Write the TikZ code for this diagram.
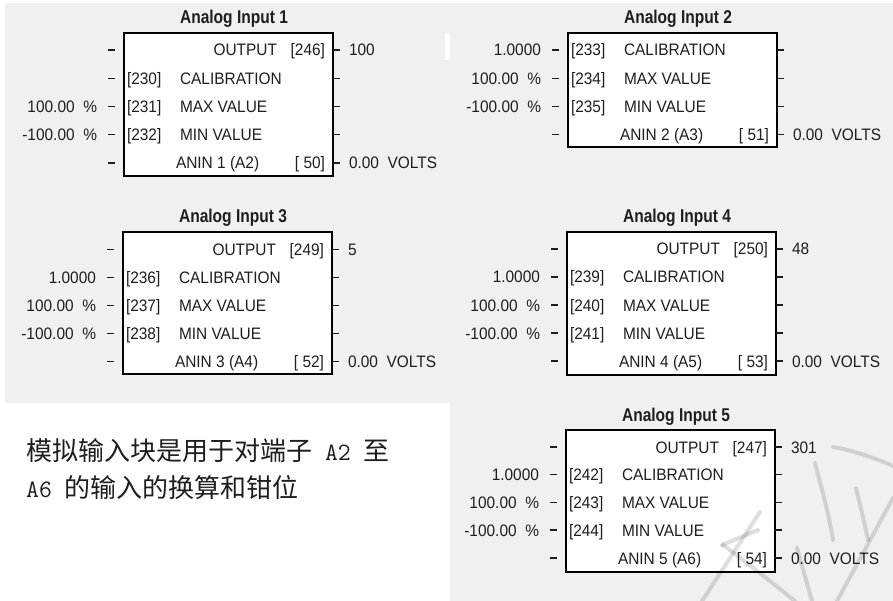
\documentclass[tikz,border=0pt]{standalone}
\usepackage{fontspec}
\setmainfont{Liberation Sans}
\newfontfamily\bodyfont[FakeStretch=0.93]{Liberation Sans}
\newfontfamily\titlefont[FakeStretch=0.84]{Liberation Sans Bold}
\newfontfamily\cjkfont{Noto Sans CJK SC}
\definecolor{bggray}{RGB}{240,240,240}
\definecolor{inkc}{RGB}{30,30,30}
\tikzset{
  txt/.style={inner sep=0pt, outer sep=0pt, text=inkc, font=\bodyfont\fontsize{16.6}{17}\selectfont},
  ttl/.style={inner sep=0pt, outer sep=0pt, text=inkc, font=\titlefont\fontsize{18.5}{19}\selectfont},
  boxst/.style={draw=black, line width=1.4pt, fill=white, anchor=north west, minimum width=209pt, inner sep=0pt, outer sep=0pt},
  tickline/.style={line width=1.3pt, draw=inkc},
  wm/.style={draw=black, opacity=0.13, line width=4pt, line cap=round},
  zh/.style={anchor=base west, inner sep=0pt, text=inkc, font=\fontsize{26}{26}\selectfont\cjkfont},
}
% left tick + right tick
\newcommand\ticks[2]{%
  \coordinate (#1la) at (-16,#2); \coordinate (#1lb) at (-9,#2);
  \draw[tickline] (#1la) -- (#1lb);
  \coordinate (#1ra) at (209,#2); \coordinate (#1rb) at (216,#2);
  \draw[tickline] (#1ra) -- (#1rb);
}
% input row: prefix, y, left value, number, label
\newcommand\inrow[5]{%
  \ticks{#1}{#2}
  \node[txt,anchor=base east] (#1v) at (-27,#2+6) {#3};
  \node[txt,anchor=base west] (#1n) at (3,#2+6) {[#4]};
  \node[txt,anchor=base west] (#1l) at (56,#2+6) {#5};
}
% output row: prefix, y, number, value
\newcommand\outrow[4]{%
  \ticks{#1}{#2}
  \node[txt,anchor=base east] (#1l) at (153,#2+6) {OUTPUT};
  \node[txt,anchor=base east] (#1n) at (201,#2+6) {[#3]};
  \node[txt,anchor=base west] (#1v) at (225,#2+6) {#4};
}
% anin row: prefix, y, label, number, value
\newcommand\aninrow[5]{%
  \ticks{#1}{#2}
  \node[txt,anchor=base west] (#1l) at (52,#2+6) {#3};
  \node[txt,anchor=base east] (#1n) at (201,#2+6) {[#4]};
  \node[txt,anchor=base west] (#1v) at (225,#2+6) {#5};
}
\begin{document}
\begin{tikzpicture}[x=1pt,y=-1pt]
\useasboundingbox (0,0) rectangle (893,601);
% backgrounds
\fill[white] (0,0) rectangle (893,601);
\fill[bggray] (5,3) rectangle (893,601);
\fill[white] (0,403) rectangle (450,601);
\fill[white] (445,33) rectangle (450,60);

% Block 1
\begin{scope}[shift={(124,33)}]
  \node[boxst, minimum height=143pt] (A) at (0,0) {};
  \node[ttl, anchor=base] (At) at (110,-9) {Analog Input 1};
  \outrow{Ar1}{17}{246}{100}
  \inrow{Ar2}{45.25}{}{230}{CALIBRATION}
  \inrow{Ar3}{73.5}{100.00 \ \%}{231}{MAX VALUE}
  \inrow{Ar4}{101.75}{-100.00 \ \%}{232}{MIN VALUE}
  \aninrow{Ar5}{130}{ANIN 1 (A2)}{ 50}{0.00 \ VOLTS}
\end{scope}

% Block 2
\begin{scope}[shift={(568,33)}]
  \node[boxst, minimum height=114pt] (B) at (0,0) {};
  \node[ttl, anchor=base] (Bt) at (110,-9) {Analog Input 2};
  \inrow{Br1}{17}{1.0000}{233}{CALIBRATION}
  \inrow{Br2}{45.25}{100.00 \ \%}{234}{MAX VALUE}
  \inrow{Br3}{73.5}{-100.00 \ \%}{235}{MIN VALUE}
  \aninrow{Br4}{101.75}{ANIN 2 (A3)}{ 51}{0.00 \ VOLTS}
\end{scope}

% Block 3
\begin{scope}[shift={(123,232)}]
  \node[boxst, minimum height=142pt] (C) at (0,0) {};
  \node[ttl, anchor=base] (Ct) at (110,-9) {Analog Input 3};
  \outrow{Cr1}{17.5}{249}{5}
  \inrow{Cr2}{45.5}{1.0000}{236}{CALIBRATION}
  \inrow{Cr3}{73.5}{100.00 \ \%}{237}{MAX VALUE}
  \inrow{Cr4}{101.5}{-100.00 \ \%}{238}{MIN VALUE}
  \aninrow{Cr5}{129.5}{ANIN 3 (A4)}{ 52}{0.00 \ VOLTS}
\end{scope}

% Block 4
\begin{scope}[shift={(567,232)}]
  \node[boxst, minimum height=143pt] (D) at (0,0) {};
  \node[ttl, anchor=base] (Dt) at (110,-9) {Analog Input 4};
  \outrow{Dr1}{17}{250}{48}
  \inrow{Dr2}{45}{1.0000}{239}{CALIBRATION}
  \inrow{Dr3}{73}{100.00 \ \%}{240}{MAX VALUE}
  \inrow{Dr4}{101}{-100.00 \ \%}{241}{MIN VALUE}
  \aninrow{Dr5}{129}{ANIN 4 (A5)}{ 53}{0.00 \ VOLTS}
\end{scope}

% Block 5
\begin{scope}[shift={(566,430)}]
  \node[boxst, minimum height=142pt] (E) at (0,0) {};
  \node[ttl, anchor=base] (Et) at (110,-9) {Analog Input 5};
  \outrow{Er1}{17}{247}{301}
  \inrow{Er2}{44.5}{1.0000}{242}{CALIBRATION}
  \inrow{Er3}{72.5}{100.00 \ \%}{243}{MAX VALUE}
  \inrow{Er4}{100}{-100.00 \ \%}{244}{MIN VALUE}
  \aninrow{Er5}{128}{ANIN 5 (A6)}{ 54}{0.00 \ VOLTS}
\end{scope}

% Chinese description
\node[zh] (zh1) at (26,460)
  {模拟输入块是用于对端子{\ttfamily\fontsize{25}{26}\selectfont\ A2\ }至};
\node[zh] (zh2) at (26,497)
  {{\ttfamily\fontsize{25}{26}\selectfont A6\ }的输入的换算和钳位};

% faint watermark
\draw[wm] (833,447) .. controls (855,451) and (875,458) .. (893,466);
\draw[wm] (815,463) .. controls (822,490) and (828,510) .. (833,540);
\draw[wm] (856,488) .. controls (860,505) and (864,520) .. (868,540);
\draw[wm] (893,498) -- (837,601);
\draw[wm] (760,512) -- (702,601);
\draw[wm] (722,545) -- (758,530);
\draw[wm] (723,545) .. controls (750,565) and (775,585) .. (795,601);
\draw[wm] (797,548) -- (812,601);
\end{tikzpicture}
\end{document}
